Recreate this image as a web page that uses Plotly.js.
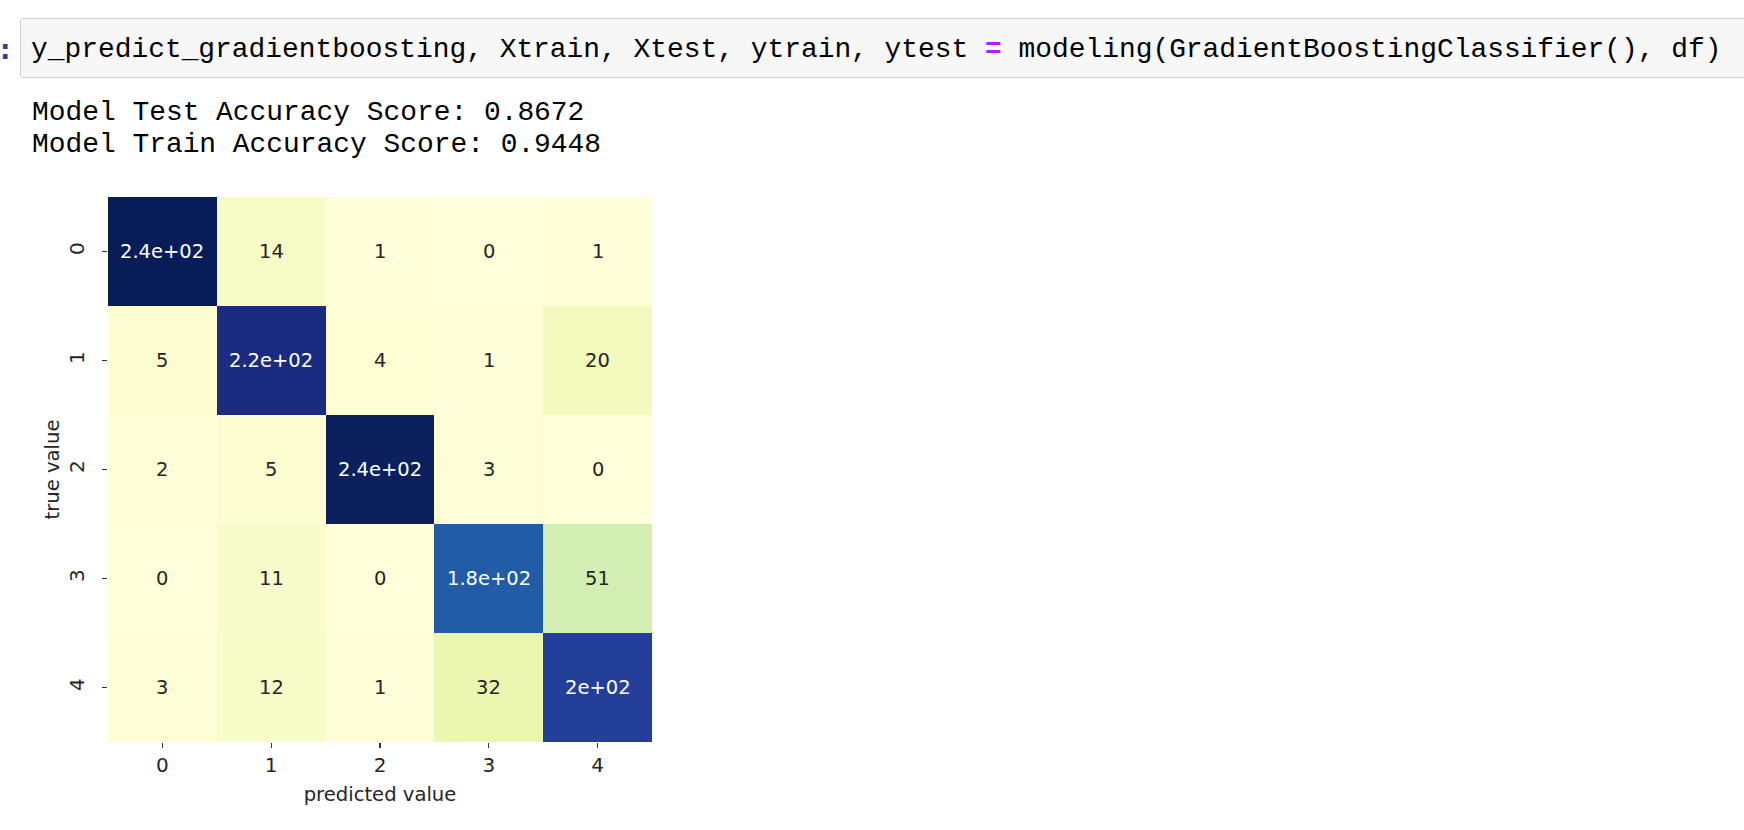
<!DOCTYPE html>
<html>
<head>
<meta charset="utf-8">
<script src="https://cdn.plot.ly/plotly-3.0.1.min.js"></script>
<style>
  html, body { margin:0; padding:0; background:#fff; width:1744px; height:830px; overflow:hidden; position:relative; }
  .mono { font-family:"Liberation Mono", "DejaVu Sans Mono", monospace; font-size:27.9px; white-space:pre; position:absolute; color:#000; line-height:40px; }
  #codebox { position:absolute; left:20px; top:18px; width:1800px; height:60px; background:#f7f7f7; border:1px solid #cfcfcf; border-radius:3px; box-sizing:border-box; }
  #prompt { position:absolute; color:#303F9F; font-family:"DejaVu Sans", sans-serif; font-weight:bold; font-size:26px; left:0px; top:30px; line-height:40px; }
  #code { left:31px; top:30px; }
  .eq { color:#AA22FF; font-weight:bold; }
  #out1 { left:32px; top:93px; }
  #out2 { left:32px; top:125px; }
  #chart { position:absolute; left:0; top:0; width:1744px; height:830px; }
</style>
</head>
<body>
<div id="codebox"></div>
<div id="prompt">:</div>
<div id="code" class="mono">y_predict_gradientboosting, Xtrain, Xtest, ytrain, ytest <span class="eq">=</span> modeling(GradientBoostingClassifier(), df)</div>
<div id="out1" class="mono">Model Test Accuracy Score: 0.8672</div>
<div id="out2" class="mono">Model Train Accuracy Score: 0.9448</div>
<div id="chart"></div>
<script>
// Data
const predictedLabels = ['0', '1', '2', '3', '4'];
const trueLabels = ['0', '1', '2', '3', '4'];
const row0 = [241, 14, 1, 0, 1];
const row1 = [5, 221, 4, 1, 20];
const row2 = [2, 5, 239, 3, 0];
const row3 = [0, 11, 0, 182, 51];
const row4 = [3, 12, 1, 32, 203];
const confusion = [row0, row1, row2, row3, row4];

// Python-like '.2g' formatting (seaborn annot default)
function fmt2g(v) {
  if (v === 0) return '0';
  const e = Math.floor(Math.log10(Math.abs(v)));
  if (e < -4 || e >= 2) {
    let s = v.toExponential(1);
    let [m, ex] = s.split('e');
    if (m.indexOf('.') >= 0) m = m.replace(/\.?0+$/, '');
    const sign = ex[0] === '-' ? '-' : '+';
    let digits = ex.replace(/[+-]/, '');
    if (digits.length < 2) digits = '0' + digits;
    return m + 'e' + sign + digits;
  }
  let s = v.toPrecision(2);
  if (s.indexOf('.') >= 0) s = s.replace(/\.?0+$/, '');
  return s;
}

const ylgnbu = ['#ffffd9','#edf8b1','#c7e9b4','#7fcdbb','#41b6c4','#1d91c0','#225ea8','#253494','#081d58'];
const colorscale = ylgnbu.map((c, i) => [i / (ylgnbu.length - 1), c]);
const zmax = Math.max(...confusion.flat());

const annotations = [];
confusion.forEach((row, i) => {
  row.forEach((v, j) => {
    annotations.push({
      x: predictedLabels[j], y: trueLabels[i], xref: 'x', yref: 'y',
      text: fmt2g(v), showarrow: false,
      font: { family: 'DejaVu Sans', size: 19.5, color: (v / zmax > 0.55) ? '#ffffff' : '#262626' }
    });
  });
});

const trace = {
  type: 'heatmap',
  z: confusion,
  x: predictedLabels,
  y: trueLabels,
  colorscale: colorscale,
  zmin: 0,
  zmax: zmax,
  showscale: false,
  hoverinfo: 'skip'
};

const axisCommon = {
  type: 'category',
  showgrid: false, zeroline: false, showline: false,
  ticks: 'outside', ticklen: 5, tickwidth: 1.4, tickcolor: '#333',
  tickfont: { family: 'DejaVu Sans', size: 20, color: '#262626' }
};

const layout = {
  width: 1744, height: 830,
  margin: { l: 108, r: 1092, t: 197, b: 88 },
  paper_bgcolor: 'rgba(0,0,0,0)',
  plot_bgcolor: 'rgba(0,0,0,0)',
  showlegend: false,
  xaxis: Object.assign({}, axisCommon, {
    title: { text: 'predicted value', font: { family: 'DejaVu Sans', size: 19.6, color: '#262626' }, standoff: 11 }
  }),
  yaxis: Object.assign({}, axisCommon, {
    autorange: 'reversed',
    tickangle: -90,
    ticklabelstandoff: 10,
    title: { text: 'true value', font: { family: 'DejaVu Sans', size: 19.6, color: '#262626' }, standoff: 0 }
  }),
  annotations: annotations
};

Plotly.newPlot('chart', [trace], layout, { displayModeBar: false, staticPlot: true });
</script>
</body>
</html>
